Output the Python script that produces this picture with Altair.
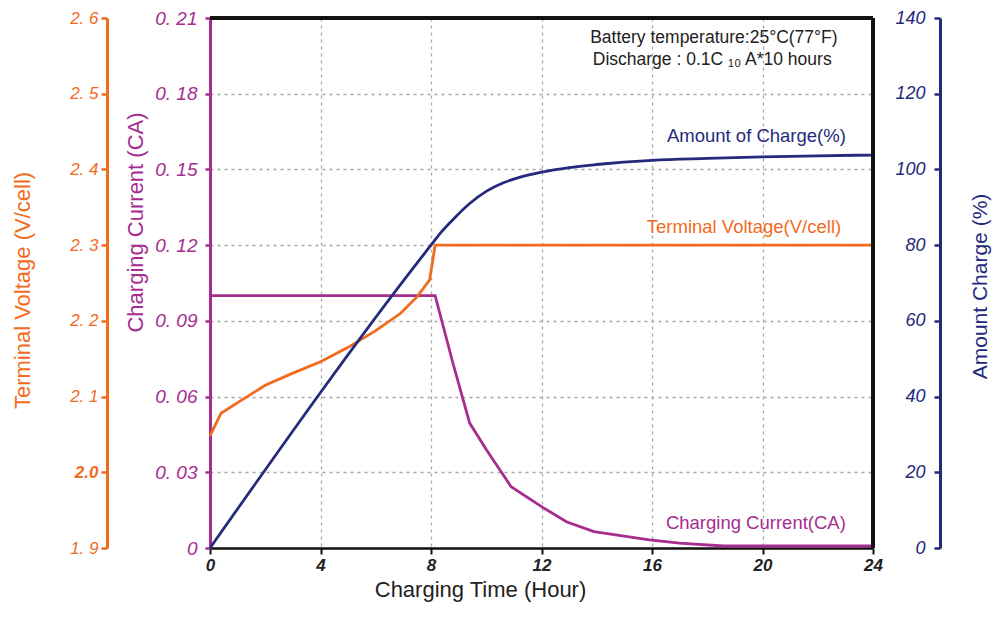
import altair as alt
import pandas as pd

# ---- data ----
hours_v = [0, 0.4, 1, 2, 3, 4, 5, 6, 6.9, 7.5, 7.95, 8.15, 24]
volt = [2.048, 2.078, 2.092, 2.115, 2.131, 2.146, 2.165, 2.187, 2.21, 2.232, 2.254, 2.3, 2.3]

hours_c = [0, 8.15, 8.8, 9.4, 10.0, 10.9, 12.0, 12.9, 13.9, 15.9, 17.0, 18.6, 24]
curr = [0.1, 0.1, 0.073, 0.0495, 0.039, 0.0243, 0.0164, 0.0104, 0.0065, 0.0032, 0.0019, 0.0008, 0.0008]

hours_q = [0, 8.0, 8.4, 8.8, 9.4, 10.0, 10.6, 11.2, 12, 13, 14, 16, 18, 20, 22, 24]
charge = [0, 80, 83.7, 86.8, 91.0, 94.2, 96.4, 97.9, 99.3, 100.5, 101.3, 102.4, 102.9, 103.3, 103.6, 103.8]

x_ticks = [0, 4, 8, 12, 16, 20, 24]
v_ticks = [1.9, 2.0, 2.1, 2.2, 2.3, 2.4, 2.5, 2.6]
c_ticks = [0, 0.03, 0.06, 0.09, 0.12, 0.15, 0.18, 0.21]
q_ticks = [0, 20, 40, 60, 80, 100, 120, 140]

ORANGE = "#F26B1D"
PURPLE = "#A62D8F"
NAVY = "#252A7C"
FONT = "Liberation Sans"
W, H = 663, 530
TITLE_SIZE = 22

df_v = pd.DataFrame({"h": hours_v, "v": volt})
df_c = pd.DataFrame({"h": hours_c, "c": curr})
df_q = pd.DataFrame({"h": hours_q, "q": charge})

x_enc = alt.X(
    "h:Q", title="Charging Time (Hour)",
    scale=alt.Scale(domain=[0, 24], nice=False, zero=False),
    axis=alt.Axis(values=x_ticks, grid=True, gridColor="#a8a8a8", gridDash=[3, 4], gridWidth=1.3,
                  domainColor="#111", domainWidth=2.5, tickColor="#111", tickWidth=2, tickSize=6,
                  labelFont=FONT, labelFontStyle="italic", labelFontWeight="bold", labelFontSize=17,
                  labelColor="#222", labelPadding=3, labelFlush=False,
                  titleFont=FONT, titleFontSize=TITLE_SIZE, titleFontWeight="normal", titleColor="#222",
                  titleX=270, titleY=41, titleBaseline="middle", titleAlign="center"))

y_v = alt.Y(
    "v:Q", title="Terminal Voltage (V/cell)",
    scale=alt.Scale(domain=[1.9, 2.6], nice=False, zero=False),
    axis=alt.Axis(orient="left", offset=103, values=v_ticks, grid=False,
                  domainColor=ORANGE, domainWidth=3, tickColor=ORANGE, tickWidth=2.5, tickSize=6,
                  labelExpr="abs(datum.value - 2) < 0.001 ? '2.0' : replace(format(datum.value, '.1f'), '.', '. ')",
                  labelFontWeight={"expr": "abs(datum.value - 2) < 0.001 ? 'bold' : 'normal'"},
                  labelFont=FONT, labelFontStyle="italic", labelFontSize=17, labelColor=ORANGE,
                  labelPadding=3,
                  titleFont=FONT, titleFontSize=TITLE_SIZE, titleFontWeight="normal", titleColor=ORANGE,
                  titleX=-85, titleY=272, titleAngle=270, titleAlign="center", titleBaseline="middle"))

y_c = alt.Y(
    "c:Q", title="Charging Current (CA)",
    scale=alt.Scale(domain=[0, 0.21], nice=False, zero=False),
    axis=alt.Axis(orient="left", offset=0, values=c_ticks, grid=True, gridColor="#a8a8a8",
                  gridDash=[3, 4], gridWidth=1.3,
                  domainColor=PURPLE, domainWidth=3, tickColor=PURPLE, tickWidth=2.5, tickSize=5,
                  labelExpr="datum.value == 0 ? '0' : replace(format(datum.value, '.2f'), '.', '. ')",
                  labelFont=FONT, labelFontStyle="italic", labelFontSize=19, labelColor=PURPLE,
                  labelPadding=8,
                  titleFont=FONT, titleFontSize=TITLE_SIZE, titleFontWeight="normal", titleColor=PURPLE,
                  titleX=-75, titleY=204, titleAngle=270, titleAlign="center", titleBaseline="middle"))

y_q = alt.Y(
    "q:Q", title="Amount Charge (%)",
    scale=alt.Scale(domain=[0, 140], nice=False, zero=False),
    axis=alt.Axis(orient="left", offset=-730, values=q_ticks, grid=False,
                  domainColor=NAVY, domainWidth=3, tickColor=NAVY, tickWidth=2.5, tickSize=6,
                  labelFont=FONT, labelFontStyle="italic", labelFontSize=18, labelColor=NAVY,
                  labelPadding=9,
                  titleFont=FONT, titleFontSize=21, titleFontWeight="normal", titleColor=NAVY,
                  titleX=40, titleY=268, titleAngle=270, titleAlign="center", titleBaseline="middle"))

# ---- series ----
volt_line = alt.Chart(df_v).mark_line(color=ORANGE, strokeWidth=2.8).encode(x=x_enc, y=y_v)
curr_line = alt.Chart(df_c).mark_line(color=PURPLE, strokeWidth=2.8).encode(x=x_enc, y=y_c)
charge_line = alt.Chart(df_q).mark_line(color=NAVY, strokeWidth=2.8, interpolate="monotone").encode(x=x_enc, y=y_q)

# ---- annotations (data coordinates) ----
lab_v = pd.DataFrame({"h": [19.33], "v": [2.324], "t": ["Terminal Voltage(V/cell)"]})
lab_c = pd.DataFrame({"h": [19.76], "c": [0.0099], "t": ["Charging Current(CA)"]})
lab_q = pd.DataFrame({"h": [19.78, 18.24, 18.18], "q": [108.7, 134.8, 128.8],
                      "t": ["Amount of Charge(%)", "Battery temperature:25°C(77°F)",
                            "Discharge : 0.1C \u2081\u2080 A*10 hours"]})

volt_text = alt.Chart(lab_v).mark_text(font=FONT, fontSize=18.5, color=ORANGE, baseline="middle").encode(
    x=x_enc, y=y_v, text="t:N")
curr_text = alt.Chart(lab_c).mark_text(font=FONT, fontSize=18.5, color=PURPLE, baseline="middle").encode(
    x=x_enc, y=y_c, text="t:N")
charge_text = alt.Chart(lab_q.iloc[[0]]).mark_text(font=FONT, fontSize=18.5, color=NAVY, baseline="middle").encode(
    x=x_enc, y=y_q, text="t:N")
box_text = alt.Chart(lab_q.iloc[[1, 2]]).mark_text(font=FONT, fontSize=17.5, color="#222", baseline="middle").encode(
    x=x_enc, y=y_q, text="t:N")

# plot frame (top and right)
top_rule = alt.Chart(df_v).mark_rule(color="#111", strokeWidth=2.5).encode(
    x=alt.value(0), x2=alt.value(W), y=alt.value(0))
right_rule = alt.Chart(df_v).mark_rule(color="#111", strokeWidth=2.5).encode(
    x=alt.value(W), y=alt.value(0), y2=alt.value(H))

curr_layer = alt.layer(curr_line, curr_text)
volt_layer = alt.layer(volt_line, volt_text)
charge_layer = alt.layer(charge_line, charge_text, box_text)

chart = alt.layer(curr_layer, volt_layer, charge_layer, top_rule, right_rule).resolve_scale(
    y="independent"
).properties(
    width=W, height=H,
    autosize=alt.AutoSizeParams(type="none"),
    padding={"left": 202, "top": 10, "right": 119, "bottom": 55},
    background="white",
).configure_view(stroke=None)

chart.save("out.html", embed_options={"renderer": "svg", "actions": False})
